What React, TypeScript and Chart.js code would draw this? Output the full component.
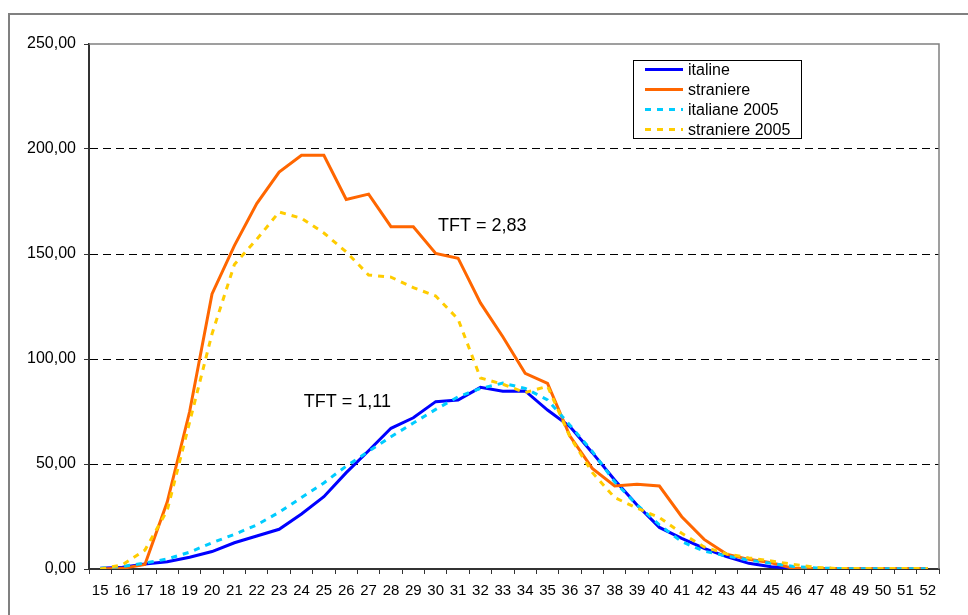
import React, { useEffect, useRef } from 'react';
import { Chart, registerables } from 'chart.js';

Chart.register(...registerables);

const ages = ['15','16','17','18','19','20','21','22','23','24','25','26','27','28','29','30','31','32','33','34','35','36','37','38','39','40','41','42','43','44','45','46','47','48','49','50','51','52'];

const italine = [0.3,0.8,2.4,3.5,5.6,8.3,12.5,15.7,18.9,26.2,34.4,45.9,56.3,67,72,79.7,80.5,86.5,84.6,84.8,75.7,67.8,55.4,42.4,30.5,19.8,14.6,9.8,5.9,2.7,1.1,0.3,0.1,0.1,0.1,0.1,0.1,0.1];
const straniere = [0,0.3,2.2,32,75,131,154,174,189,197,197,176,178.5,163,163,150.3,148,126.7,110.6,93.2,88.4,63.3,47.9,39.5,40.3,39.5,24.9,14.1,7.1,4.6,3.0,0.3,0.1,0.1,0.1,0.1,0.1,0.1];
const italiane2005 = [0.3,1.2,2.8,4.8,8,12.5,16.5,21,27,34,41,49,56,63,69.5,76,82,86,88.5,86,80.5,68.5,56,41.5,30.5,21,13,8.5,6.2,4.3,2.7,1.2,0.5,0.2,0.1,0.1,0.1,0.1];
const straniere2005 = [0,2,9,28,70,112,145,157,170,167,160,151,140,139,134,130,119,91,88,84,87,63,46,34,29,24.5,17,10.5,7.2,5.3,3.8,2.2,0.8,0.2,0.2,0.2,0.2,0.2];

const seriesNames = ['italine', 'straniere', 'italiane 2005', 'straniere 2005'];
const seriesColors = ['#0000FF', '#FF6600', '#00CCFF', '#FFCC00'];
const seriesDashed = [false, false, true, true];

const yMin = 0;
const yMax = 250;
const yStep = 50;

const annotations = [
  { text: 'TFT = 2,83', x: 15.1, y: 163.3 },
  { text: 'TFT = 1,11', x: 9.1, y: 79.5 },
];

const FONT = '"Liberation Sans", Arial, Helvetica, sans-serif';
const fmt = (v: number) => v.toFixed(2).replace('.', ',');

const decorPlugin = {
  id: 'decor',
  beforeDatasetsDraw(chart: any) {
    const { ctx, chartArea } = chart;
    ctx.save();
    ctx.strokeStyle = '#808080';
    ctx.lineWidth = 1.5;
    ctx.beginPath();
    ctx.moveTo(chartArea.left, chartArea.top);
    ctx.lineTo(chartArea.right, chartArea.top);
    ctx.lineTo(chartArea.right, chartArea.bottom);
    ctx.stroke();
    ctx.restore();
  },
  afterDraw(chart: any) {
    const { ctx } = chart;
    const xs = chart.scales.x;
    const ys = chart.scales.y;
    ctx.save();
    // outer frame
    ctx.strokeStyle = '#808080';
    ctx.lineWidth = 2;
    ctx.strokeRect(9, 14, 1000, 700);

    // annotations
    ctx.fillStyle = '#000';
    ctx.font = `18px ${FONT}`;
    ctx.textAlign = 'left';
    ctx.textBaseline = 'middle';
    annotations.forEach((a) => {
      ctx.fillText(a.text, xs.getPixelForValue(a.x), ys.getPixelForValue(a.y));
    });

    // legend
    const bx = 633, by = 60, bw = 168, bh = 78;
    ctx.fillStyle = '#fff';
    ctx.fillRect(bx, by, bw, bh);
    ctx.strokeStyle = '#000';
    ctx.lineWidth = 1;
    ctx.strokeRect(bx + 0.5, by + 0.5, bw, bh);
    ctx.font = `16px ${FONT}`;
    seriesNames.forEach((name, i) => {
      const y = by + 9.5 + i * 20;
      ctx.strokeStyle = seriesColors[i];
      ctx.lineWidth = 3;
      ctx.setLineDash(seriesDashed[i] ? [6, 6] : []);
      ctx.beginPath();
      ctx.moveTo(bx + 12, y);
      ctx.lineTo(bx + 50, y);
      ctx.stroke();
      ctx.setLineDash([]);
      ctx.fillStyle = '#000';
      ctx.fillText(name, bx + 55, y + 1);
    });
    ctx.restore();
  },
};

export default function App() {
  const ref = useRef<HTMLCanvasElement | null>(null);

  useEffect(() => {
    if (!ref.current) return;
    const data = [italine, straniere, italiane2005, straniere2005];
    const orders = [3, 2, 1, 0];
    const chart = new Chart(ref.current, {
      type: 'line',
      data: {
        labels: ages,
        datasets: data.map((d, i) => ({
          label: seriesNames[i],
          data: d,
          borderColor: seriesColors[i],
          backgroundColor: seriesColors[i],
          borderWidth: 3,
          borderDash: seriesDashed[i] ? [6, 6] : [],
          pointRadius: 0,
          tension: 0,
          fill: false,
          order: orders[i],
        })),
      },
      options: {
        responsive: false,
        animation: false,
        events: [],
        layout: { padding: { left: 0, top: 44, right: 29, bottom: 0 } },
        plugins: {
          legend: { display: false },
          tooltip: { enabled: false },
          title: { display: false },
        },
        scales: {
          x: {
            type: 'category',
            offset: true,
            afterFit: (s: any) => { s.height = 46; },
            grid: {
              display: true,
              drawOnChartArea: false,
              drawTicks: true,
              offset: true,
              tickLength: 5,
              tickColor: '#333',
              color: '#333',
            },
            border: { display: true, color: '#333', width: 2 },
            ticks: {
              color: '#000',
              font: { family: FONT, size: 15 },
              maxRotation: 0,
              autoSkip: false,
              padding: 8,
            },
          },
          y: {
            min: yMin,
            max: yMax,
            afterFit: (s: any) => { s.width = 89; },
            grid: {
              display: true,
              drawTicks: true,
              tickLength: 5,
              tickColor: '#333',
              color: (c: any) => (c.tick && (c.tick.value === yMin || c.tick.value === yMax) ? 'rgba(0,0,0,0)' : '#000'),
              lineWidth: 1,
            },
            border: { display: true, color: '#333', width: 2, dash: [8, 5] },
            ticks: {
              stepSize: yStep,
              color: '#000',
              font: { family: FONT, size: 16 },
              padding: 8,
              callback: (v: any) => fmt(Number(v)),
            },
          },
        },
      },
      plugins: [decorPlugin],
    } as any);
    return () => chart.destroy();
  }, []);

  return (
    <div style={{ position: 'absolute', left: 0, top: 0, width: 968, height: 615, background: '#fff' }}>
      <canvas ref={ref} width={968} height={615} style={{ display: 'block' }} />
    </div>
  );
}
